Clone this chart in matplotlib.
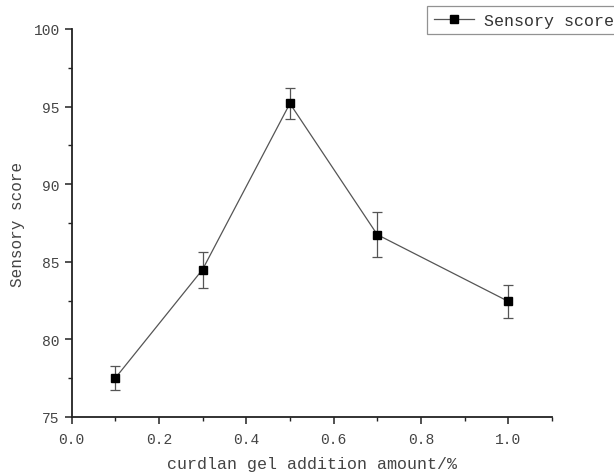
import matplotlib
matplotlib.use("Agg")
import matplotlib.pyplot as plt
from matplotlib.ticker import MultipleLocator
from matplotlib.lines import Line2D

plt.rcParams['font.family'] = ['Liberation Mono', 'DejaVu Sans']

x_amount = [0.1, 0.3, 0.5, 0.7, 1.0]
sensory_score = [77.5, 84.5, 95.2, 86.75, 82.45]
score_err = [0.78, 1.16, 1.03, 1.44, 1.08]

fig = plt.figure(figsize=(6.14, 4.77), dpi=100)
ax = fig.add_axes([71.5/614, 1-418/477, (552-71.5)/614, (418-30)/477])

ax.errorbar(x_amount, sensory_score, yerr=score_err, color='#555555', lw=0.9,
            marker='s', ms=6.2, mfc='black', mec='black', ecolor='#555555',
            elinewidth=0.9, capsize=3.5, capthick=0.9)

ax.set_xlim(0, 1.1)
ax.set_ylim(75, 100)
ax.xaxis.set_minor_locator(MultipleLocator(0.1))
ax.yaxis.set_minor_locator(MultipleLocator(2.5))
ax.set_xticks([0.0, 0.2, 0.4, 0.6, 0.8, 1.0])
ax.set_xticklabels(['0.0', '0.2', '0.4', '0.6', '0.8', '1.0'])
ax.set_yticks([75, 80, 85, 90, 95, 100])
ax.set_yticklabels(['75', '80', '85', '90', '95', '100'])

for s in ['top', 'right']:
    ax.spines[s].set_visible(False)
for s in ['left', 'bottom']:
    ax.spines[s].set_linewidth(1.3)
    ax.spines[s].set_color('#222222')

ax.tick_params(which='major', direction='out', length=5, width=1.1, labelsize=10.5,
               colors='#222222', labelcolor='#444444')
ax.tick_params(axis='x', which='major', pad=6)
ax.tick_params(which='minor', direction='out', length=3, width=1.0, colors='#222222')

ax.set_xlabel('curdlan gel addition amount/%', fontsize=12, color='#444444', labelpad=7)
ax.set_ylabel('Sensory score', fontsize=11.5, color='#444444', labelpad=6)

handle = Line2D([], [], color='#555555', lw=0.9, marker='s', ms=5.5,
                mfc='black', mec='black')
leg = fig.legend([handle], ['Sensory score'], loc='upper left',
                 bbox_to_anchor=(427/614, 1-7/477), fontsize=12,
                 frameon=True, fancybox=False, edgecolor='#777777', borderaxespad=0,
                 handlelength=2.4, handletextpad=0.6, borderpad=0.4)
leg.get_frame().set_linewidth(0.9)
for t in leg.get_texts():
    t.set_color('#333333')

fig.savefig('out.png', dpi=100)
